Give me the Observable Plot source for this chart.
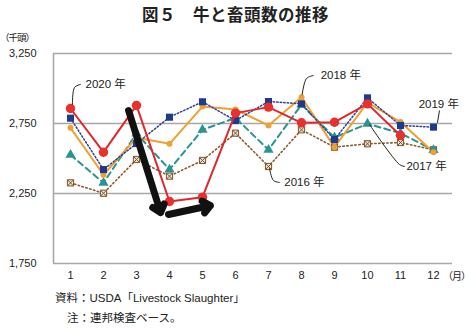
<!DOCTYPE html>
<html><head><meta charset="utf-8">
<script src="https://cdn.jsdelivr.net/npm/d3@7"></script>
<script src="https://cdn.jsdelivr.net/npm/@observablehq/plot@0.6"></script>
<style>
body{margin:0;background:#fff;}
#wrap{position:relative;width:471px;height:328px;overflow:hidden;font-family:"Liberation Sans","Noto Sans CJK JP",sans-serif;color:#222;}
.t{position:absolute;white-space:nowrap;}
</style></head>
<body><div id="wrap">
<div class="t" style="left:0;width:471px;top:2px;text-align:center;font-family:'Noto Sans CJK JP';font-weight:bold;font-size:16.5px;letter-spacing:0.5px;">図５　牛と畜頭数の推移</div>
<div class="t" style="left:0px;top:30px;font-family:'Noto Sans CJK JP';font-size:9.5px;letter-spacing:-1px;">（千頭）</div>
<div class="t" style="left:443px;top:268px;font-family:'Noto Sans CJK JP';font-size:10px;letter-spacing:-1px;">（月）</div>
<div class="t" style="left:55px;top:289px;font-family:'Liberation Sans','Noto Sans CJK JP';font-size:11.5px;">資料：USDA「Livestock Slaughter」</div>
<div class="t" style="left:67px;top:309px;font-family:'Liberation Sans','Noto Sans CJK JP';font-size:11.5px;">注：連邦検査ベース。</div>
</div>
<script>
const months = [1,2,3,4,5,6,7,8,9,10,11,12];
const y2016 = [2326,2252,2493,2374,2486,2681,2443,2705,2581,2605,2614,2562];
const y2017 = [2526,2326,2679,2421,2705,2790,2562,2885,2650,2748,2681,2560];
const y2018 = [2719,2384,2648,2605,2871,2850,2736,2938,2581,2900,2760,2545];
const y2019 = [2788,2421,2607,2795,2905,2771,2907,2890,2636,2933,2736,2724];
const y2020 = [2857,2545,2879,2193,2224,2824,2867,2755,2759,2890,2664,null];
const yTicks = [1750,2250,2750,3250];
const xDomain = [0.485, 12.576];
const seriesLabels = [
  {label:"2020 年", x:1.455, y:3029},
  {label:"2018 年", x:8.58, y:3093},
  {label:"2019 年", x:11.55, y:2886},
  {label:"2017 年", x:11.18, y:2443},
  {label:"2016 年", x:7.48, y:2329}
];
const leaders = [
  {g:"2020", x:1.06, y:2886},{g:"2020", x:1.12, y:3007},{g:"2020", x:1.30, y:3029},
  {g:"2018", x:8.02, y:2955},{g:"2018", x:8.15, y:3071},{g:"2018", x:8.36, y:3093},
  {g:"2019", x:12.12, y:2757},{g:"2019", x:12.18, y:2840},
  {g:"2017", x:10.06, y:2743},{g:"2017", x:10.97, y:2457},{g:"2017", x:11.12, y:2443},
  {g:"2016", x:7.03, y:2429},{g:"2016", x:7.15, y:2343},{g:"2016", x:7.33, y:2329}
];
const arrows = [
  {x1:2.76, y1:2843, x2:3.73, y2:2114},
  {x1:3.97, y1:2100, x2:5.24, y2:2164}
];

const mk = arr => months.map((m,i)=>({m, v:arr[i]})).filter(d=>d.v!=null);
const d16 = mk(y2016), d17 = mk(y2017), d18 = mk(y2018), d19 = mk(y2019), d20 = mk(y2020);

const squareX = {draw(ctx, size){const s=Math.sqrt(size)/2;ctx.moveTo(-s,-s);ctx.lineTo(s,-s);ctx.lineTo(s,s);ctx.lineTo(-s,s);ctx.closePath();ctx.moveTo(-s,-s);ctx.lineTo(s,s);ctx.moveTo(s,-s);ctx.lineTo(-s,s);}};

const chart = Plot.plot({
  width:471, height:328,
  marginTop:53, marginBottom:65, marginLeft:53, marginRight:19,
  style:{fontFamily:"'Liberation Sans','Noto Sans CJK JP',sans-serif", fontSize:"11px", color:"#222", background:"transparent"},
  x:{type:"linear", domain:xDomain},
  y:{domain:[1750,3250]},
  marks:[
    Plot.ruleY(yTicks, {stroke:"#a8a8a8", strokeWidth:1.6}),
    Plot.ruleX([xDomain[0]], {stroke:"#a8a8a8", strokeWidth:1.6}),
    Plot.axisY({ticks:yTicks, tickSize:0, tickPadding:17, tickFormat:d3.format(","), label:null, fontSize:11}),
    Plot.axisX({ticks:months, tickSize:0, tickPadding:8, tickFormat:d=>String(d), label:null, fontSize:11}),
    Plot.line(d16, {x:"m", y:"v", stroke:"#8a5a2e", strokeWidth:1.6, strokeDasharray:"1.5,2.5"}),
    Plot.line(d17, {x:"m", y:"v", stroke:"#2a9490", strokeWidth:2, strokeDasharray:"6,4"}),
    Plot.line(d18, {x:"m", y:"v", stroke:"#f0a030", strokeWidth:2}),
    Plot.line(d19, {x:"m", y:"v", stroke:"#2c3f9c", strokeWidth:1.5, strokeDasharray:"1.5,2"}),
    Plot.dot(d16, {x:"m", y:"v", symbol:squareX, r:3.5, fill:"#efe4cf", stroke:"#7a5230", strokeWidth:1}),
    Plot.dot(d17, {x:"m", y:"v", symbol:"triangle", r:3.8, fill:"#2a9490"}),
    Plot.dot(d18, {x:"m", y:"v", r:3, fill:"#f0a030"}),
    Plot.dot(d19, {x:"m", y:"v", symbol:"square", r:4, fill:"#1f3a8c"}),
    Plot.line(d20, {x:"m", y:"v", stroke:"#e0272c", strokeWidth:2}),
    Plot.dot(d20, {x:"m", y:"v", r:4.7, fill:"#e8302c"}),
    Plot.arrow(arrows, {x1:"x1", y1:"y1", x2:"x2", y2:"y2", stroke:"#111", strokeWidth:7, headLength:2, headAngle:80}),
    Plot.line(leaders, {x:"x", y:"y", z:"g", stroke:"#222", strokeWidth:1, curve:"catmull-rom"}),
    Plot.text(seriesLabels, {x:"x", y:"y", text:"label", textAnchor:"start", fontSize:11.5, fill:"#222"})
  ]
});
chart.style.position="absolute"; chart.style.left="0"; chart.style.top="0";
document.getElementById("wrap").prepend(chart);
</script>
</body></html>
